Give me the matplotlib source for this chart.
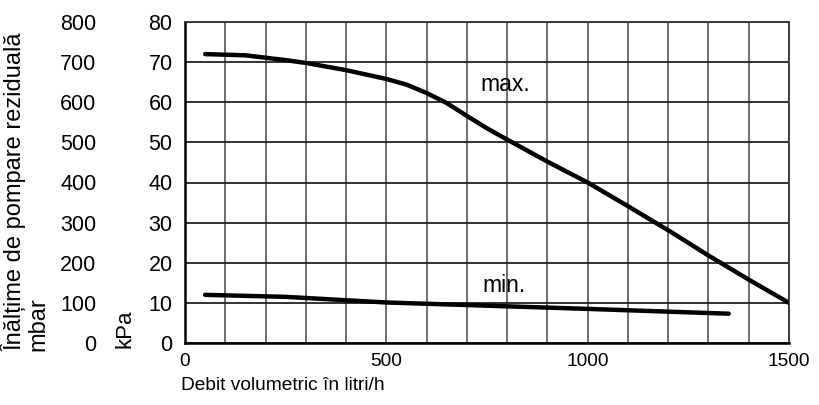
import matplotlib
matplotlib.use("Agg")
import matplotlib.pyplot as plt
from matplotlib.ticker import MultipleLocator

plt.rcParams['font.family'] = ['Liberation Sans', 'DejaVu Sans']

# data
max_x = [50, 150, 250, 300, 400, 500, 550, 600, 650, 700, 750, 800, 900, 1000, 1100, 1200, 1300, 1400, 1500]
max_y = [72, 71.7, 70.5, 69.8, 68, 65.8, 64.4, 62.3, 59.8, 56.6, 53.5, 50.7, 45.2, 40, 34.1, 28.1, 21.8, 15.8, 10]
min_x = [50, 250, 500, 750, 1000, 1350]
min_y = [12, 11.5, 10.1, 9.3, 8.5, 7.3]
kpa_ticks = [0, 10, 20, 30, 40, 50, 60, 70, 80]
x_ticks = [0, 500, 1000, 1500]

W, H = 819, 405
fig = plt.figure(figsize=(W / 100, H / 100), dpi=100)
l, r, t, b = 185, 789, 22, 343
ax = fig.add_axes([l / W, 1 - b / H, (r - l) / W, (b - t) / H])

ax.plot(max_x, max_y, color='black', lw=3.2, solid_capstyle='round', solid_joinstyle='round')
ax.plot(min_x, min_y, color='black', lw=3.2, solid_capstyle='round', solid_joinstyle='round')

ax.set_xlim(0, 1500)
ax.set_ylim(0, 80)
ax.xaxis.set_minor_locator(MultipleLocator(100))
ax.set_xticks(x_ticks)
ax.set_yticks(kpa_ticks)
ax.grid(True, axis='x', which='both', color='#555555', lw=1.2)
ax.grid(True, axis='y', which='major', color='#222222', lw=1.3)
ax.set_axisbelow(True)
ax.tick_params(which='both', length=0, colors='black')
ax.tick_params(axis='y', pad=9, labelsize=15.5)
ax.tick_params(axis='x', pad=7, labelsize=13.8)
for s in ax.spines.values():
    s.set_linewidth(1.3)
    s.set_color('#333333')
ax.spines['left'].set_linewidth(1.8)
ax.spines['left'].set_color('black')
ax.spines['bottom'].set_linewidth(1.8)
ax.spines['bottom'].set_color('black')

sec = ax.secondary_yaxis(-0.126, functions=(lambda v: v * 10, lambda v: v / 10))
sec.set_yticks([k * 10 for k in kpa_ticks])
sec.tick_params(length=0, labelsize=15.5, pad=9)
sec.spines['left'].set_visible(False)

ax.text(733, 62.7, 'max.', fontsize=16.5, va='baseline', ha='left')
ax.text(738, 12.7, 'min.', fontsize=16.5, va='baseline', ha='left')

fig.text(125 / W, 1 - 348 / H, 'kPa', rotation=90, fontsize=16, ha='center', va='bottom')
fig.text(14 / W, 1 - 351 / H, 'Înălțime de pompare reziduală', rotation=90, fontsize=17,
         ha='center', va='bottom')
fig.text(38 / W, 1 - 351 / H, 'mbar', rotation=90, fontsize=17, ha='center', va='bottom')
fig.text(181 / W, 1 - 385 / H, 'Debit volumetric în litri/h', fontsize=13.8, ha='left', va='center')

fig.savefig('out.png', dpi=100)
